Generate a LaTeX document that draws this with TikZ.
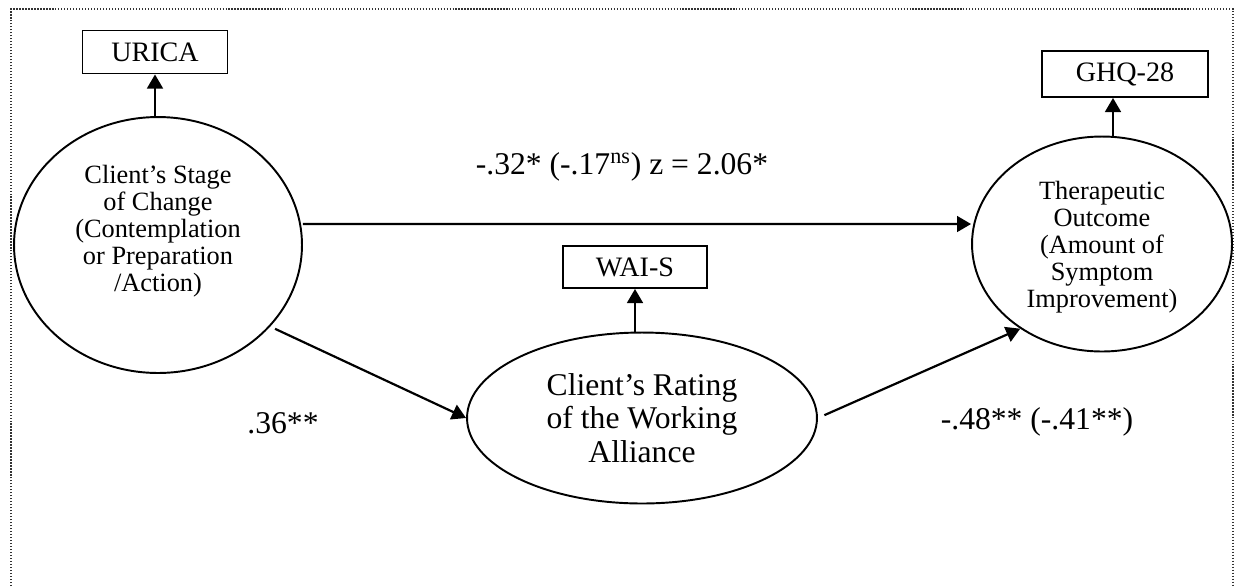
\documentclass[tikz,border=0pt]{standalone}
\usepackage{fontspec}
\setmainfont{Liberation Serif}
\usetikzlibrary{shapes.geometric,arrows.meta}

\tikzset{
  latent/.style={ellipse,draw,line width=1.1pt,inner sep=0pt},
  indicator/.style={rectangle,draw,line width=1.1pt,font=\fontsize{16}{18}\selectfont},
  effect/.style={-{Triangle[length=8pt,width=9pt]},line width=1.25pt},
  coef/.style={font=\fontsize{18}{20}\selectfont},
  inner/.style={align=center,font=\fontsize{15}{15.4}\selectfont},
}

\begin{document}
\begin{tikzpicture}[x=0.02cm,y=-0.02cm]
            \useasboundingbox (0,0) rectangle (1240,586);
            % Dotted frame
            \draw[densely dotted,line width=0.7pt,black!80] (11,586) -- (11,9) -- (1233,9) -- (1233,586);

            % Draw ellipses
            \node[latent,minimum width=5.76cm,minimum height=5.12cm] (stage) at (158,245) {};
            \node[inner] (stagetxt) at (158,231) {Client's Stage\\of Change\\(Contemplation\\or Preparation\\/Action)};
            \node[latent,minimum width=7cm,minimum height=3.42cm,align=center,font=\fontsize{18}{19}\selectfont] (alliance) at (642,418) {Client's Rating\\of the Working\\Alliance};
            \node[latent,minimum width=5.2cm,minimum height=4.3cm] (outcome) at (1102,244) {};
            \node[inner] (outcometxt) at (1102,247) {Therapeutic\\Outcome\\(Amount of\\Symptom\\Improvement)};

            % Draw measures
            \node[indicator,minimum width=2.9cm,minimum height=0.86cm] (urica) at (155,52) {URICA};
            \node[indicator,minimum width=2.88cm,minimum height=0.84cm] (wai) at (635,267) {WAI-S};
            \node[indicator,minimum width=3.32cm,minimum height=0.92cm] (ghq) at (1125,74) {GHQ-28};
            \coordinate (ghqfoot) at ([xshift=-0.24cm]ghq.south);

            % Connect ellipses to measures
            \draw[effect] (urica.south |- stage.north) -- (urica.south);
            \draw[effect] (wai.south |- alliance.north) -- (wai.south);
            \draw[effect] (ghqfoot |- outcome.north) -- (ghqfoot);

            % Connect ellipses with arrows
            \draw[effect] ([yshift=0.42cm]stage.east) -- ([yshift=0.4cm]outcome.west);
            \draw[effect,shorten <=3pt] (stage.-36) -- (alliance.west);
            \draw[effect,shorten <=4pt] (alliance.east) -- (outcome.226);

            % Path coefficients
            \node[coef] (direct) at (622,167) {-.32* (-.17\textsuperscript{ns}) z = 2.06*};
            \node[coef] (apath) at (283,423) {.36**};
            \node[coef] (bpath) at (1037,422) {-.48** (-.41**)};
          \end{tikzpicture}
\end{document}
